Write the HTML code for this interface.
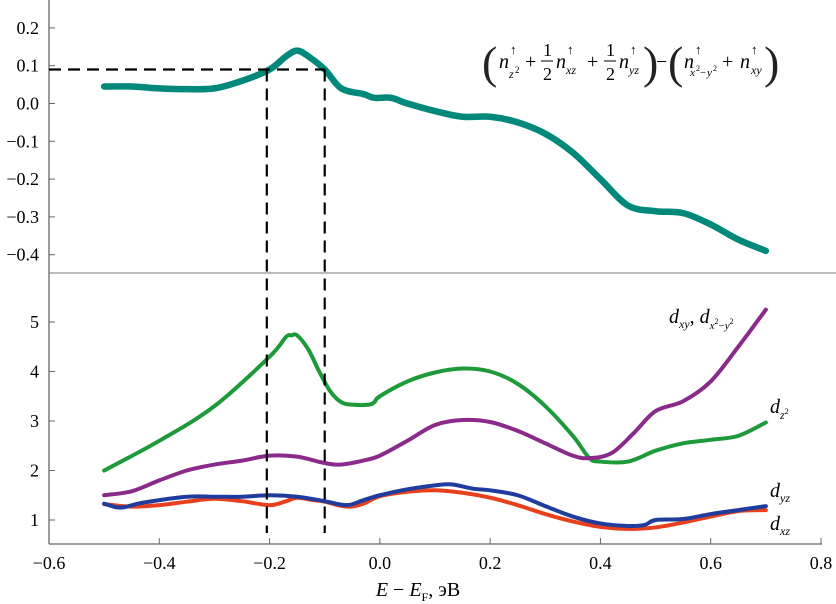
<!DOCTYPE html>
<html><head><meta charset="utf-8"><style>
body{margin:0;background:#fff;}
svg{display:block;}
text,tspan{font-family:"Liberation Serif","DejaVu Serif",serif;}
</style></head><body>
<svg id="chart" width="836" height="604" viewBox="0 0 836 604" xmlns="http://www.w3.org/2000/svg" font-family="Liberation Serif, serif">
<g id="axes"></g>
<g id="series"></g>
<g font-size="20" font-style="italic">
 <text x="482" y="78" font-size="46" font-style="normal" fill="#222">(</text>
 <text x="499" y="68">n</text><text x="510" y="54" font-size="13" font-style="normal">↑</text><text x="509" y="78" font-size="12">z</text><text x="515" y="73" font-size="9" font-style="normal">2</text>
 <text x="525" y="68" font-style="normal">+</text>
 <text x="543" y="56" font-style="normal" font-size="18">1</text><line x1="541" y1="61" x2="553" y2="61" stroke="#000"/><text x="543" y="80" font-style="normal" font-size="18">2</text>
 <text x="556" y="68">n</text><text x="567" y="54" font-size="13" font-style="normal">↑</text><text x="566" y="74" font-size="12">xz</text>
 <text x="587" y="68" font-style="normal">+</text>
 <text x="606" y="56" font-style="normal" font-size="18">1</text><line x1="604" y1="61" x2="616" y2="61" stroke="#000"/><text x="606" y="80" font-style="normal" font-size="18">2</text>
 <text x="619" y="68">n</text><text x="630" y="54" font-size="13" font-style="normal">↑</text><text x="629" y="74" font-size="12">yz</text>
 <text x="643" y="78" font-size="46" font-style="normal" fill="#222">)</text>
 <text x="656" y="68" font-style="normal">−</text>
 <text x="668" y="78" font-size="46" font-style="normal" fill="#222">(</text>
 <text x="684" y="68">n</text><text x="695" y="54" font-size="13" font-style="normal">↑</text><text x="690" y="76" font-size="11">x</text><text x="696" y="71" font-size="8" font-style="normal">2</text><text x="700" y="76" font-size="11" font-style="normal">−</text><text x="707" y="76" font-size="11">y</text><text x="713" y="71" font-size="8" font-style="normal">2</text>
 <text x="722" y="68" font-style="normal">+</text>
 <text x="740" y="68">n</text><text x="751" y="54" font-size="13" font-style="normal">↑</text><text x="751" y="74" font-size="12">xy</text>
 <text x="764" y="78" font-size="46" font-style="normal" fill="#222">)</text>
</g>
<g font-style="italic" font-size="20">
 <text x="669" y="323">d<tspan font-size="12" dy="5">xy</tspan><tspan dy="-5" font-style="normal">, </tspan>d<tspan font-size="11" dy="6">x</tspan><tspan font-size="8" dy="-5" font-style="normal">2</tspan><tspan font-size="11" dy="5" font-style="normal">−</tspan><tspan font-size="11">y</tspan><tspan font-size="8" dy="-5" font-style="normal">2</tspan></text>
 <text x="770" y="413">d<tspan font-size="12" dy="6">z</tspan><tspan font-size="8" dy="-5" font-style="normal">2</tspan></text>
 <text x="770" y="497">d<tspan font-size="12" dy="5">yz</tspan></text>
 <text x="770" y="530">d<tspan font-size="12" dy="5">xz</tspan></text>
</g>
</svg>
<script>
const xTicks=[-0.6,-0.4,-0.2,0.0,0.2,0.4,0.6,0.8];
const topTicks=[0.2,0.1,0.0,-0.1,-0.2,-0.3,-0.4];
const botTicks=[1,2,3,4,5];
const diffX=[-0.5,-0.45,-0.4,-0.35,-0.3,-0.25,-0.2,-0.17,-0.15,-0.13,-0.1,-0.07,-0.03,-0.01,0.02,0.05,0.1,0.15,0.2,0.25,0.3,0.35,0.4,0.45,0.5,0.55,0.6,0.65,0.7];
const diffY=[0.045,0.045,0.04,0.038,0.04,0.06,0.09,0.125,0.14,0.125,0.09,0.04,0.025,0.015,0.015,0.0,-0.02,-0.035,-0.035,-0.05,-0.08,-0.13,-0.2,-0.27,-0.285,-0.29,-0.32,-0.36,-0.39];
const dz2X=[-0.5,-0.4,-0.3,-0.2,-0.17,-0.16,-0.15,-0.13,-0.11,-0.09,-0.07,-0.05,-0.02,-0.01,0.0,0.05,0.1,0.15,0.2,0.25,0.3,0.35,0.38,0.4,0.45,0.5,0.55,0.6,0.65,0.7];
const dz2Y=[2.0,2.6,3.3,4.3,4.7,4.73,4.73,4.45,4.0,3.6,3.38,3.33,3.33,3.38,3.5,3.8,3.98,4.06,4.0,3.75,3.3,2.7,2.25,2.18,2.18,2.4,2.55,2.62,2.7,2.97];
const dxyX=[-0.5,-0.45,-0.4,-0.35,-0.3,-0.25,-0.2,-0.15,-0.1,-0.07,-0.03,0.0,0.05,0.1,0.15,0.2,0.25,0.3,0.35,0.38,0.42,0.46,0.5,0.55,0.6,0.65,0.7];
const dxyY=[1.5,1.58,1.8,2.0,2.12,2.2,2.3,2.28,2.15,2.12,2.2,2.3,2.6,2.92,3.02,2.98,2.8,2.55,2.3,2.25,2.35,2.75,3.2,3.4,3.8,4.5,5.25];
const dyzX=[-0.5,-0.47,-0.43,-0.35,-0.3,-0.25,-0.2,-0.15,-0.1,-0.06,-0.03,0.0,0.05,0.1,0.13,0.17,0.2,0.25,0.3,0.35,0.4,0.45,0.48,0.5,0.55,0.6,0.65,0.7];
const dyzY=[1.33,1.25,1.35,1.47,1.47,1.47,1.5,1.47,1.38,1.3,1.4,1.5,1.62,1.7,1.72,1.63,1.6,1.5,1.28,1.07,0.93,0.88,0.9,1.0,1.02,1.12,1.2,1.28];
const dxzX=[-0.5,-0.45,-0.4,-0.35,-0.3,-0.25,-0.2,-0.17,-0.15,-0.12,-0.1,-0.06,-0.03,0.0,0.05,0.1,0.15,0.2,0.25,0.3,0.35,0.4,0.45,0.5,0.55,0.6,0.65,0.7];
const dxzY=[1.32,1.27,1.3,1.37,1.43,1.38,1.3,1.38,1.45,1.4,1.37,1.27,1.33,1.48,1.57,1.6,1.55,1.45,1.3,1.12,0.97,0.86,0.82,0.85,0.95,1.07,1.18,1.2];
const refLevel=[0.09];
const refX=[-0.205,-0.1];

const NS="http://www.w3.org/2000/svg";
const X=v=>49+(v+0.6)/1.4*772;
const YT=v=>103.5-v*378;
const YB=v=>520-(v-1)*49.5;
const axes=document.getElementById('axes'),ser=document.getElementById('series');
function mk(tag,attrs,parent){const e=document.createElementNS(NS,tag);for(const k in attrs)e.setAttribute(k,attrs[k]);parent.appendChild(e);return e;}
let e;
e=mk('line',{x1:49,y1:0,x2:49,y2:544,stroke:'#666','stroke-width':1.3},axes);


e=mk('line',{x1:49,y1:544,x2:822,y2:544,stroke:'#666','stroke-width':1.3},axes);


e=mk('line',{x1:49,y1:273,x2:836,y2:273,stroke:'#777','stroke-width':1},axes);


xTicks.forEach(v=>{
 mk('line',{x1:X(v),y1:544,x2:X(v),y2:538,stroke:'#666'},axes);
 e=mk('text',{x:X(v),y:569,'text-anchor':'middle','font-size':18},axes);
 e.textContent=(v<0?'−':'')+Math.abs(v).toFixed(1);
 
 
});
topTicks.forEach(v=>{
 mk('line',{x1:49,y1:YT(v),x2:55,y2:YT(v),stroke:'#666'},axes);
 e=mk('text',{x:39,y:YT(v)+6,'text-anchor':'end','font-size':18},axes);
 e.textContent=(v<0?'−':'')+Math.abs(v).toFixed(1);
 
 
});
botTicks.forEach(v=>{
 mk('line',{x1:49,y1:YB(v),x2:55,y2:YB(v),stroke:'#666'},axes);
 e=mk('text',{x:39,y:YB(v)+6,'text-anchor':'end','font-size':18},axes);
 e.textContent=String(v);
 
 
});
e=mk('text',{x:418,y:596,'text-anchor':'middle','font-size':20},axes);
e.innerHTML='<tspan font-style="italic">E</tspan> − <tspan font-style="italic">E</tspan><tspan font-size="12" dy="5">F</tspan><tspan dy="-5">, эВ</tspan>';


function path(xs,ys,fy){
 const p=xs.map((x,i)=>[X(x),fy(ys[i])]);
 let d='M'+p[0][0]+','+p[0][1];
 for(let i=0;i<p.length-1;i++){
  const p0=p[i-1]||p[i],p1=p[i],p2=p[i+1],p3=p[i+2]||p2;
  d+=' C'+(p1[0]+(p2[0]-p0[0])/6)+','+(p1[1]+(p2[1]-p0[1])/6)+' '+(p2[0]-(p3[0]-p1[0])/6)+','+(p2[1]-(p3[1]-p1[1])/6)+' '+p2[0]+','+p2[1];
 }
 return d;
}
function line(xs,ys,fy,color,w,name){
 const el=mk('path',{d:path(xs,ys,fy),fill:'none',stroke:color,'stroke-width':w,'stroke-linecap':'round','stroke-linejoin':'round'},ser);
 
 
}
line(dxzX,dxzY,YB,'#e8401c',4,'line-dxz');
line(dyzX,dyzY,YB,'#1f3c9e',4,'line-dyz');
line(dz2X,dz2Y,YB,'#1e9a3a',4,'line-dz2');
line(dxyX,dxyY,YB,'#8a2a8a',4,'line-dxy');
line(diffX,diffY,YT,'#00897b',6.5,'line-occupation-difference');
e=mk('line',{x1:49,y1:YT(refLevel[0]),x2:X(refX[1]),y2:YT(refLevel[0]),stroke:'#000','stroke-width':2.2,'stroke-dasharray':'12,7'},ser);


refX.forEach(v=>{
 const l=mk('line',{x1:X(v),y1:YT(refLevel[0]),x2:X(v),y2:533,stroke:'#000','stroke-width':2.2,'stroke-dasharray':'12,7'},ser);
 
 
});
</script>
</body></html>
